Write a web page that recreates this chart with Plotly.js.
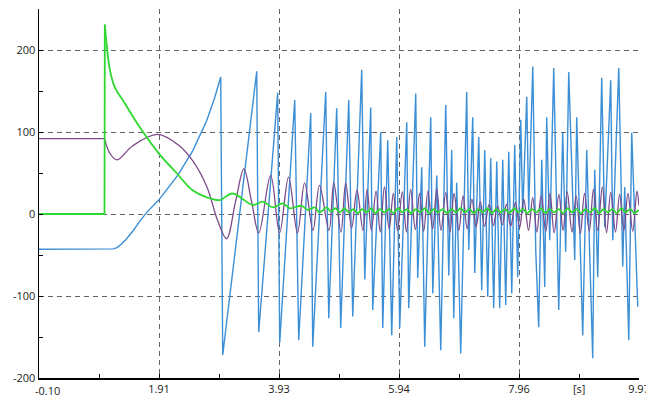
<!DOCTYPE html>
<html>
<head>
<meta charset="utf-8">
<script src="https://cdn.plot.ly/plotly-3.0.1.min.js"></script>
<style>html,body{margin:0;padding:0;background:#fff;}#chart{width:646px;height:401px;}</style>
</head>
<body>
<div id="chart"></div>
<script>
// ---- data ----
const xTickVals = [-0.10, 1.915, 3.93, 5.945, 7.96, 9.975];
const xTickText = ["", "1.91", "3.93", "5.94", "7.96", "9.97"];
const xFirstLabel = "-0.10";
const xMinorVals = [0.9075, 2.9225, 4.9375, 6.9525, 8.9675];
const yTickVals = [-200, -100, 0, 100, 200];
const yTickText = ["-200", "-100", "0", "100", "200"];
const unitLabel = "[s]";

// blue signal (zigzag vertices)
const blueT = [-0.10, 1.087, 1.15, 1.21, 1.28, 1.36, 1.474, 1.591, 1.709, 1.910, 2.229, 2.481, 2.717, 2.851, 2.951, 2.985,
  3.556, 3.589, 3.908, 3.942, 4.194, 4.261, 4.463, 4.496, 4.715, 4.765, 4.899, 4.966, 5.101, 5.168,
  5.319, 5.370, 5.470, 5.504, 5.638, 5.672, 5.756, 5.823, 5.907, 5.957, 6.075, 6.108, 6.226, 6.259,
  6.327, 6.377, 6.478, 6.512, 6.579, 6.646, 6.730, 6.780, 6.830, 6.864, 6.914, 6.981, 7.082, 7.116,
  7.183, 7.217, 7.284, 7.334, 7.385, 7.435, 7.485, 7.535, 7.586, 7.636, 7.687, 7.737, 7.788, 7.838,
  7.888, 7.938, 7.989, 8.023, 8.090, 8.123, 8.191, 8.241, 8.291, 8.342, 8.392, 8.425, 8.476, 8.543,
  8.627, 8.694, 8.744, 8.795, 8.896, 8.929, 9.030, 9.097, 9.198, 9.231, 9.282, 9.349, 9.399, 9.500,
  9.534, 9.635, 9.702, 9.735, 9.803, 9.853, 9.954];
const blueV = [-43, -43, -42.5, -41, -37, -31, -21, -9, 2, 17, 47, 77, 114, 142, 167, -172,
  174, -144, 148, -157, 139, -154, 123, -162, 149, -127, 129, -139, 139, -125,
  176, -80, 130, -117, 100, -139, 90, -148, 94, -139, 112, -115, 147, -78,
  57, -162, 118, -97, 47, -166, 133, -75, 78, -127, 38, -170, 149, -44,
  118, -72, 94, -93, 78, -101, 68, -115, 64, -115, 66, -111, 76, -97,
  84, -77, 115, 1, 143, 5, 180, -44, -138, 66, -89, 118, -32, 178,
  -117, 99, -46, 173, -56, 118, -148, 78, -176, 54, -77, 166, -16, 163,
  -32, 178, -64, 33, -154, 99, -113];

// purple signal
const purpleStepT = [-0.10, 1.00];
const purpleStepV = [92, 92];
const purpleT = [1.00, 1.09, 1.21, 1.47, 1.89, 2.26, 2.48, 2.72, 2.90, 3.05, 3.20, 3.34, 3.47, 3.59,
  3.79, 3.94, 4.09, 4.24, 4.36, 4.50, 4.61, 4.77, 4.85, 4.97, 5.05, 5.15, 5.24, 5.34,
  5.41, 5.48, 5.56, 5.63, 5.70, 5.78, 5.85, 5.92, 6.00, 6.07, 6.14, 6.22, 6.29, 6.36, 6.43, 6.51,
  6.58, 6.65, 6.73, 6.80, 6.87, 6.95, 7.02, 7.09, 7.17, 7.24, 7.31, 7.38, 7.46, 7.53, 7.60, 7.68,
  7.75, 7.82, 7.90, 7.97, 8.04, 8.12, 8.19, 8.26, 8.33, 8.41, 8.48, 8.55, 8.63, 8.70, 8.77, 8.85,
  8.92, 8.99, 9.06, 9.14, 9.21, 9.28, 9.36, 9.43, 9.50, 9.58, 9.65, 9.72, 9.79, 9.87, 9.94, 9.975];
const purpleV = [92, 74, 66, 83, 97, 83, 65, 33, -8, -30, 15, 55, 15, -23,
  47, -23, 45, -23, 38, -20, 35, -20, 38, -22, 38, -17, 29, -20,
  30, -20, 28, -22, 33, -18, 25, -20, 27, -22, 30, -19, 25, -21, 28, -18,
  30, -20, 26, -22, 25, -20, 22, -18, 18, -16, 15, -15, 12, -14, 10, -13,
  12, -15, 14, -17, 18, -20, 20, -22, 22, -21, 25, -23, 24, -20, 27, -22,
  22, -24, 25, -21, 30, -20, 33, -23, 26, -22, 24, -20, 25, -21, 28, 10];

// green signal
const greenStepT = [-0.10, 1.00, 1.005];
const greenStepV = [0, 0, 231];
const greenT = [1.005, 1.09, 1.17, 1.34, 1.59, 1.91, 2.21, 2.48, 2.82, 2.94, 3.15, 3.49, 3.66, 3.83,
  3.99, 4.11, 4.31, 4.41, 4.53, 4.61, 4.73,
  4.80, 4.88, 4.95, 5.03, 5.10, 5.18, 5.25, 5.33, 5.40, 5.48, 5.55, 5.63, 5.70, 5.78, 5.85, 5.93,
  6.00, 6.08, 6.15, 6.23, 6.30, 6.38, 6.45, 6.53, 6.60, 6.68, 6.75, 6.83, 6.90, 6.98, 7.05, 7.13,
  7.20, 7.28, 7.35, 7.43, 7.50, 7.58, 7.65, 7.73, 7.80, 7.88, 7.95, 8.03, 8.10, 8.18, 8.25, 8.33,
  8.40, 8.48, 8.55, 8.63, 8.70, 8.78, 8.85, 8.93, 9.00, 9.08, 9.15, 9.23, 9.30, 9.38, 9.45, 9.53,
  9.60, 9.68, 9.75, 9.83, 9.90, 9.97];
const greenV = [231, 176, 155, 135, 106, 74, 50, 29, 18, 17, 25, 11, 15, 8,
  13, 7, 10, 5, 8, 2, 8,
  3, 7, 2, 7, 2, 6, 1, 6, 2, 7, 1, 6, 2, 6, 1, 7,
  2, 6, 1, 6, 2, 7, 1, 6, 2, 6, 1, 6, 2, 7, 2, 6,
  1, 6, 2, 7, 1, 6, 2, 6, 1, 7, 2, 6, 1, 6, 2, 7,
  1, 6, 2, 6, 1, 7, 2, 6, 1, 6, 2, 7, 1, 6, 2, 6,
  1, 7, 2, 6, 1, 5];

// ---- chart ----
const BLUE = "#3b8fd6", PURPLE = "#7a4a8a", GREEN = "#2ed82e";
const traces = [
  {x: blueT, y: blueV, mode: "lines", line: {color: BLUE, width: 1.4}, hoverinfo: "skip"},
  {x: purpleStepT, y: purpleStepV, mode: "lines", line: {color: PURPLE, width: 1.3}, hoverinfo: "skip"},
  {x: purpleT, y: purpleV, mode: "lines", line: {color: PURPLE, width: 1.3, shape: "spline", smoothing: 1}, hoverinfo: "skip"},
  {x: greenStepT, y: greenStepV, mode: "lines", line: {color: GREEN, width: 1.8}, hoverinfo: "skip"},
  {x: greenT, y: greenV, mode: "lines", line: {color: GREEN, width: 1.8, shape: "spline", smoothing: 1}, hoverinfo: "skip"}
];
const font = {family: "'Open Sans', 'Liberation Sans', sans-serif", size: 11, color: "#222"};
const layout = {
  width: 646, height: 401,
  margin: {l: 39, r: 7, t: 9, b: 23, pad: 0},
  showlegend: false,
  paper_bgcolor: "#fff", plot_bgcolor: "#fff",
  font: font,
  xaxis: {
    range: [-0.10, 9.975], autorange: false, automargin: false,
    tickmode: "array", tickvals: xTickVals, ticktext: xTickText,
    ticklabeloverflow: "allow",
    ticks: "inside", ticklen: 4, tickcolor: "#000",
    showline: true, linecolor: "#000", linewidth: 1.5,
    showgrid: true, gridcolor: "#666", griddash: "5px,4px", gridwidth: 1,
    zeroline: false, tickfont: font,
    minor: {tickmode: "array", tickvals: xMinorVals, ticks: "inside", ticklen: 4, tickcolor: "#000", showgrid: false}
  },
  yaxis: {
    range: [-200, 250], autorange: false, automargin: false,
    tickmode: "array", tickvals: yTickVals, ticktext: yTickText,
    ticks: "inside", ticklen: 4, tickcolor: "#000",
    showline: true, linecolor: "#000", linewidth: 1.5,
    showgrid: true, gridcolor: "#666", griddash: "5px,4px", gridwidth: 1,
    zeroline: false, tickfont: font,
    minor: {dtick: 50, tick0: -200, ticks: "inside", ticklen: 4, tickcolor: "#000", showgrid: false}
  },
  annotations: [
    {x: 8.97, y: 0, xref: "x", yref: "paper", yshift: -10, yanchor: "middle", text: unitLabel, showarrow: false, font: font},
    {x: xTickVals[0], y: 0, xref: "x", yref: "paper", xshift: 8, yshift: -12, yanchor: "middle", text: xFirstLabel, showarrow: false, font: font}
  ]
};
Plotly.newPlot("chart", traces, layout, {staticPlot: true, displayModeBar: false});
</script>
</body>
</html>
